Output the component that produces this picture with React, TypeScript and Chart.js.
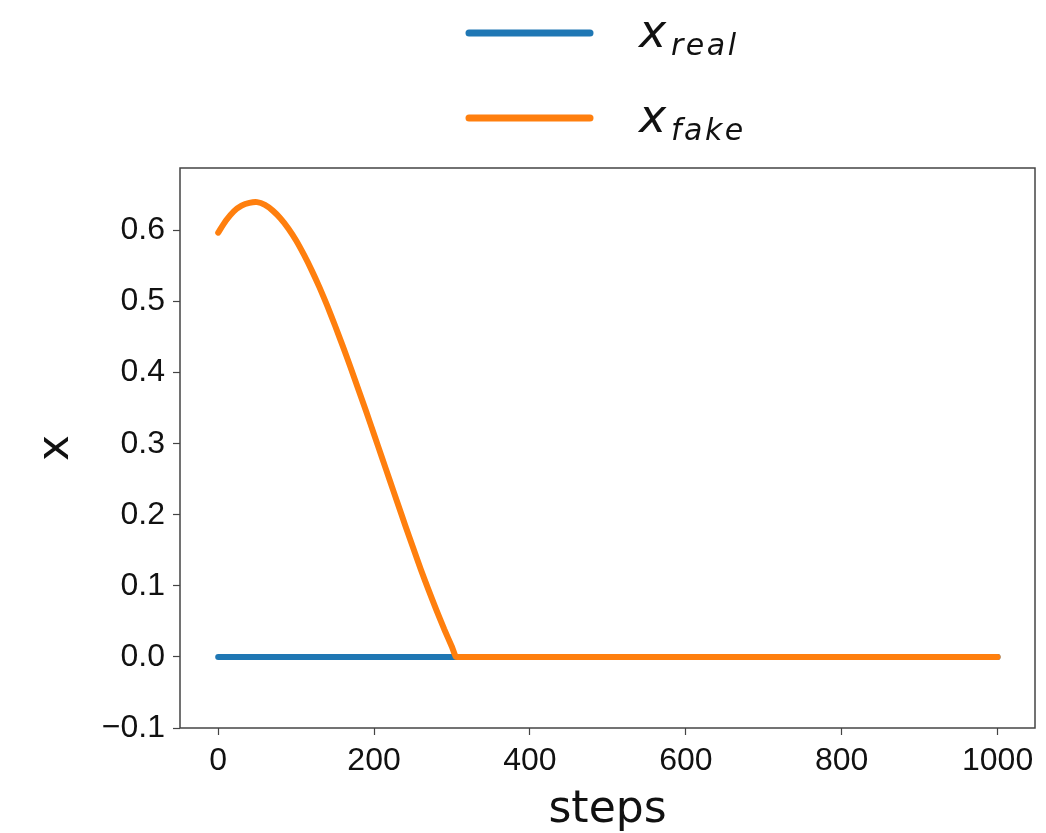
import { useEffect, useRef } from "react";
import { Chart, registerables } from "chart.js";

Chart.register(...registerables);

// ---- data ----
const fakeSteps = [0, 10, 20, 30, 40, 50, 60, 70, 80, 90, 100, 110, 120, 130, 140, 150, 160, 170, 180, 190, 200, 210, 220, 230, 240, 250, 260, 270, 280, 290, 300, 305, 310, 400, 1000];
const fakeValues = [0.597, 0.614, 0.627, 0.635, 0.639, 0.64, 0.636, 0.628, 0.617, 0.603, 0.586, 0.566, 0.544, 0.52, 0.494, 0.466, 0.437, 0.407, 0.376, 0.345, 0.313, 0.281, 0.249, 0.217, 0.185, 0.154, 0.123, 0.094, 0.066, 0.039, 0.014, 0.0, 0.0, 0.0, 0.0];
const realSteps = [0, 1000];
const realValues = [0, 0];
const xTickValues = [0, 200, 400, 600, 800, 1000];
const yTickValues = [-0.1, 0, 0.1, 0.2, 0.3, 0.4, 0.5, 0.6];
const legendSubscripts = ["real", "fake"];
const xTitle = "steps";
const yTitle = "x";

const BLUE = "#1f77b4";
const ORANGE = "#ff7f0e";
const TICK_FONT = "'Liberation Sans', Arial, sans-serif";
const TITLE_FONT = "'DejaVu Sans', sans-serif";

const framePlugin = {
  id: "frame",
  afterDatasetsDraw(chart: any) {
    const { ctx, chartArea } = chart;
    ctx.save();
    ctx.strokeStyle = "#444";
    ctx.lineWidth = 1.5;
    ctx.strokeRect(chartArea.left, chartArea.top, chartArea.right - chartArea.left, chartArea.bottom - chartArea.top);
    ctx.restore();
  },
};

const legendPlugin = {
  id: "mathLegend",
  afterDraw(chart: any) {
    const { ctx } = chart;
    const rows = [
      { ds: chart.data.datasets[0], y: 33 },
      { ds: chart.data.datasets[1], y: 118 },
    ];
    ctx.save();
    rows.forEach((r) => {
      ctx.strokeStyle = r.ds.borderColor;
      ctx.lineWidth = 7;
      ctx.lineCap = "round";
      ctx.beginPath();
      ctx.moveTo(469, r.y);
      ctx.lineTo(590, r.y);
      ctx.stroke();
      ctx.fillStyle = "#111";
      ctx.textBaseline = "alphabetic";
      ctx.textAlign = "left";
      ctx.font = `oblique 46px ${TITLE_FONT}`;
      const base = r.y + 14;
      ctx.fillText(yTitle, 639, base);
      ctx.font = `oblique 30px ${TITLE_FONT}`;
      (ctx as any).letterSpacing = "2.5px";
      ctx.fillText(r.ds.label, 671, base + 8);
      (ctx as any).letterSpacing = "0px";
    });
    ctx.restore();
  },
};

export default function App() {
  const ref = useRef<HTMLCanvasElement | null>(null);
  useEffect(() => {
    if (!ref.current) return;
    const chart = new Chart(ref.current, {
      type: "line",
      data: {
        datasets: [
          {
            label: legendSubscripts[0],
            data: realSteps.map((s, i) => ({ x: s, y: realValues[i] })),
            borderColor: BLUE,
            backgroundColor: BLUE,
            borderWidth: 6,
            borderCapStyle: "round",
            pointRadius: 0,
            order: 2,
          },
          {
            label: legendSubscripts[1],
            data: fakeSteps.map((s, i) => ({ x: s, y: fakeValues[i] })),
            borderColor: ORANGE,
            backgroundColor: ORANGE,
            borderWidth: 6,
            borderCapStyle: "round",
            borderJoinStyle: "round",
            tension: 0.2,
            pointRadius: 0,
            order: 1,
          },
        ],
      },
      options: {
        responsive: false,
        animation: false,
        layout: { padding: { top: 168, right: 11, left: 0, bottom: 0 } },
        plugins: { legend: { display: false }, tooltip: { enabled: false } },
        scales: {
          x: {
            type: "linear",
            min: -49,
            max: 1048,
            afterBuildTicks: (s: any) => {
              s.ticks = xTickValues.map((v) => ({ value: v }));
            },
            afterFit: (s: any) => {
              s.height = 105;
            },
            grid: { drawOnChartArea: false, drawTicks: true, tickLength: 7, tickColor: "#444", tickWidth: 1.2 },
            border: { display: false },
            ticks: {
              font: { family: TICK_FONT, size: 32 },
              color: "#111",
              padding: 7,
              maxRotation: 0,
              autoSkip: false,
              callback: (v: any) => String(v),
            },
            title: {
              display: true,
              text: xTitle,
              font: { family: TITLE_FONT, size: 44, lineHeight: 1 },
              color: "#111",
              padding: { top: 0, bottom: 0 },
            },
          },
          y: {
            type: "linear",
            min: -0.1,
            max: 0.688,
            afterBuildTicks: (s: any) => {
              s.ticks = yTickValues.map((v) => ({ value: v }));
            },
            afterFit: (s: any) => {
              s.width = 180;
            },
            grid: { drawOnChartArea: false, drawTicks: true, tickLength: 7, tickColor: "#444", tickWidth: 1.2 },
            border: { display: false },
            ticks: {
              font: { family: TICK_FONT, size: 32 },
              color: "#111",
              padding: 8,
              autoSkip: false,
              callback: (v: any) => {
                const n = Number(v);
                const s = Math.abs(n).toFixed(1);
                return n < -1e-9 ? "\u2212" + s : s;
              },
            },
            title: {
              display: true,
              text: yTitle,
              font: { family: TITLE_FONT, size: 44 },
              color: "#111",
              padding: { top: 30, bottom: 0 },
            },
          },
        },
      },
      plugins: [framePlugin, legendPlugin],
    } as any);
    return () => chart.destroy();
  }, []);
  return (
    <div style={{ position: "absolute", left: 0, top: 0, width: 1046, height: 833, background: "#fff" }}>
      <canvas ref={ref} width={1046} height={833} />
    </div>
  );
}
